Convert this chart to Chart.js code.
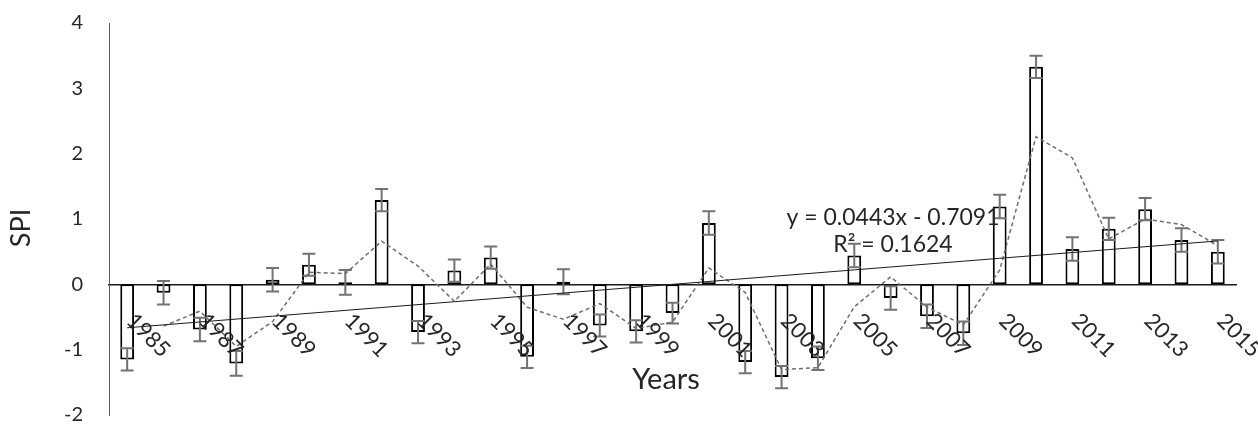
<!DOCTYPE html>
<html>
<head>
<meta charset="utf-8">
<script src="https://cdn.jsdelivr.net/npm/chart.js@4.4.0/dist/chart.umd.min.js"></script>
<style>
  html, body { margin: 0; padding: 0; background: #ffffff; }
  canvas { display: block; }
</style>
</head>
<body>
<canvas id="spiChart" width="1258" height="425"></canvas>
<script>
// Annual SPI values with their error margins
const years = ['1985','1986','1987','1988','1989','1990','1991','1992','1993','1994',
               '1995','1996','1997','1998','1999','2000','2001','2002','2003','2004',
               '2005','2006','2007','2008','2009','2010','2011','2012','2013','2014','2015'];
const spi = [-1.15, -0.13, -0.69, -1.21, 0.07, 0.30, 0.03, 1.29, -0.73, 0.21,
             0.41, -1.11, 0.04, -0.63, -0.72, -0.44, 0.94, -1.19, -1.42, -1.13,
             0.44, -0.21, -0.49, -0.75, 1.19, 3.33, 0.54, 0.85, 1.15, 0.68, 0.50];
const spiErr = [0.17, 0.18, 0.18, 0.19, 0.18, 0.17, 0.19, 0.17, 0.17, 0.17,
                0.17, 0.17, 0.19, 0.17, 0.17, 0.16, 0.18, 0.17, 0.17, 0.18,
                0.18, 0.18, 0.18, 0.18, 0.18, 0.17, 0.18, 0.17, 0.17, 0.18, 0.18];

// Axis range and the labelled years on the category axis
const yMin = -2, yMax = 4, yStep = 1;
const labelledYears = years.filter((y, i) => i % 2 === 0);

// Linear trend fitted to the series, as printed on the chart
const trendSlope = 0.0443;
const trendIntercept = -0.7091;
const trendR2 = '0.1624';
const movingAvgPeriod = 2;

const trendValues = years.map((y, i) => trendSlope * (i + 1) + trendIntercept);
const movingAvg = spi.map((v, i) => {
  if (i < movingAvgPeriod - 1) return null;
  let s = 0;
  for (let k = 0; k < movingAvgPeriod; k++) s += spi[i - k];
  return s / movingAvgPeriod;
});

const FONT = 'Lato, "Open Sans", "Liberation Sans", sans-serif';
const TEXT = '#262626';

// Error bars on top of each column
const errorBars = {
  id: 'errorBars',
  afterDatasetDraw(chart, args) {
    if (args.index !== 0) return;
    const { ctx } = chart;
    const yScale = chart.scales.y;
    const meta = chart.getDatasetMeta(0);
    ctx.save();
    ctx.strokeStyle = '#737373';
    ctx.lineWidth = 2;
    meta.data.forEach((bar, i) => {
      const x = bar.x;
      const top = yScale.getPixelForValue(spi[i] + spiErr[i]);
      const bot = yScale.getPixelForValue(spi[i] - spiErr[i]);
      const half = 6.5;
      ctx.beginPath();
      ctx.moveTo(x, top); ctx.lineTo(x, bot);
      ctx.moveTo(x - half, top); ctx.lineTo(x + half, top);
      ctx.moveTo(x - half, bot); ctx.lineTo(x + half, bot);
      ctx.stroke();
    });
    ctx.restore();
  }
};

// Rotated year labels hanging from the zero line, axis titles and trend equation
const annotations = {
  id: 'annotations',
  afterDraw(chart) {
    const { ctx } = chart;
    const xScale = chart.scales.x;
    const yScale = chart.scales.y;
    const zeroY = yScale.getPixelForValue(0);
    ctx.save();
    ctx.fillStyle = TEXT;

    ctx.font = '22px ' + FONT;
    ctx.textAlign = 'left';
    ctx.textBaseline = 'middle';
    years.forEach((y, i) => {
      if (!labelledYears.includes(y)) return;
      const x = xScale.getPixelForValue(i);
      ctx.save();
      ctx.translate(x + 3, zeroY + 33);
      ctx.rotate(Math.PI / 4);
      ctx.fillText(y, 0, 0);
      ctx.restore();
    });

    ctx.font = '29px ' + FONT;
    ctx.textAlign = 'center';
    ctx.textBaseline = 'middle';
    ctx.fillText('Years', 666, 380);

    ctx.font = '27px ' + FONT;
    ctx.save();
    ctx.translate(21, 228);
    ctx.rotate(-Math.PI / 2);
    ctx.fillText('SPI', 0, 0);
    ctx.restore();

    ctx.font = '23px ' + FONT;
    ctx.textAlign = 'center';
    const sign = trendIntercept < 0 ? '-' : '+';
    ctx.fillText('y = ' + trendSlope.toFixed(4) + 'x ' + sign + ' ' + Math.abs(trendIntercept).toFixed(4), 893, 218);
    ctx.fillText('R\u00B2 = ' + trendR2, 893, 245);
    ctx.restore();
  }
};

new Chart(document.getElementById('spiChart'), {
  data: {
    labels: years,
    datasets: [
      {
        type: 'bar',
        label: 'SPI',
        data: spi,
        backgroundColor: '#ffffff',
        borderColor: '#000000',
        borderWidth: 2,
        borderSkipped: false,
        barPercentage: 0.38,
        categoryPercentage: 1.0,
        order: 3
      },
      {
        type: 'line',
        label: '2 per. Mov. Avg. (SPI)',
        data: movingAvg,
        borderColor: '#6e6e6e',
        borderWidth: 1.5,
        borderDash: [4, 3],
        pointRadius: 0,
        tension: 0,
        fill: false,
        order: 2
      },
      {
        type: 'line',
        label: 'Linear (SPI)',
        data: trendValues,
        borderColor: '#1a1a1a',
        borderWidth: 1,
        pointRadius: 0,
        tension: 0,
        fill: false,
        order: 1
      }
    ]
  },
  options: {
    responsive: false,
    devicePixelRatio: 1,
    animation: false,
    layout: { padding: { left: 0, top: 23, right: 22, bottom: 10 } },
    plugins: {
      legend: { display: false },
      tooltip: { enabled: false },
      title: { display: false }
    },
    scales: {
      x: {
        type: 'category',
        position: { y: 0 },
        offset: true,
        grid: { display: false, drawTicks: false },
        ticks: { display: false },
        border: { display: true, color: '#1a1a1a', width: 1.5 }
      },
      y: {
        type: 'linear',
        position: 'left',
        min: yMin,
        max: yMax,
        afterFit(scale) {
          scale.width = 109;
          scale.paddingTop = 0;
          scale.paddingBottom = 0;
        },
        ticks: {
          stepSize: yStep,
          padding: 26,
          color: TEXT,
          font: { family: FONT, size: 20 }
        },
        grid: { display: false, drawTicks: false },
        border: { display: true, color: '#595959', width: 1 }
      }
    }
  },
  plugins: [errorBars, annotations]
});
</script>
</body>
</html>
